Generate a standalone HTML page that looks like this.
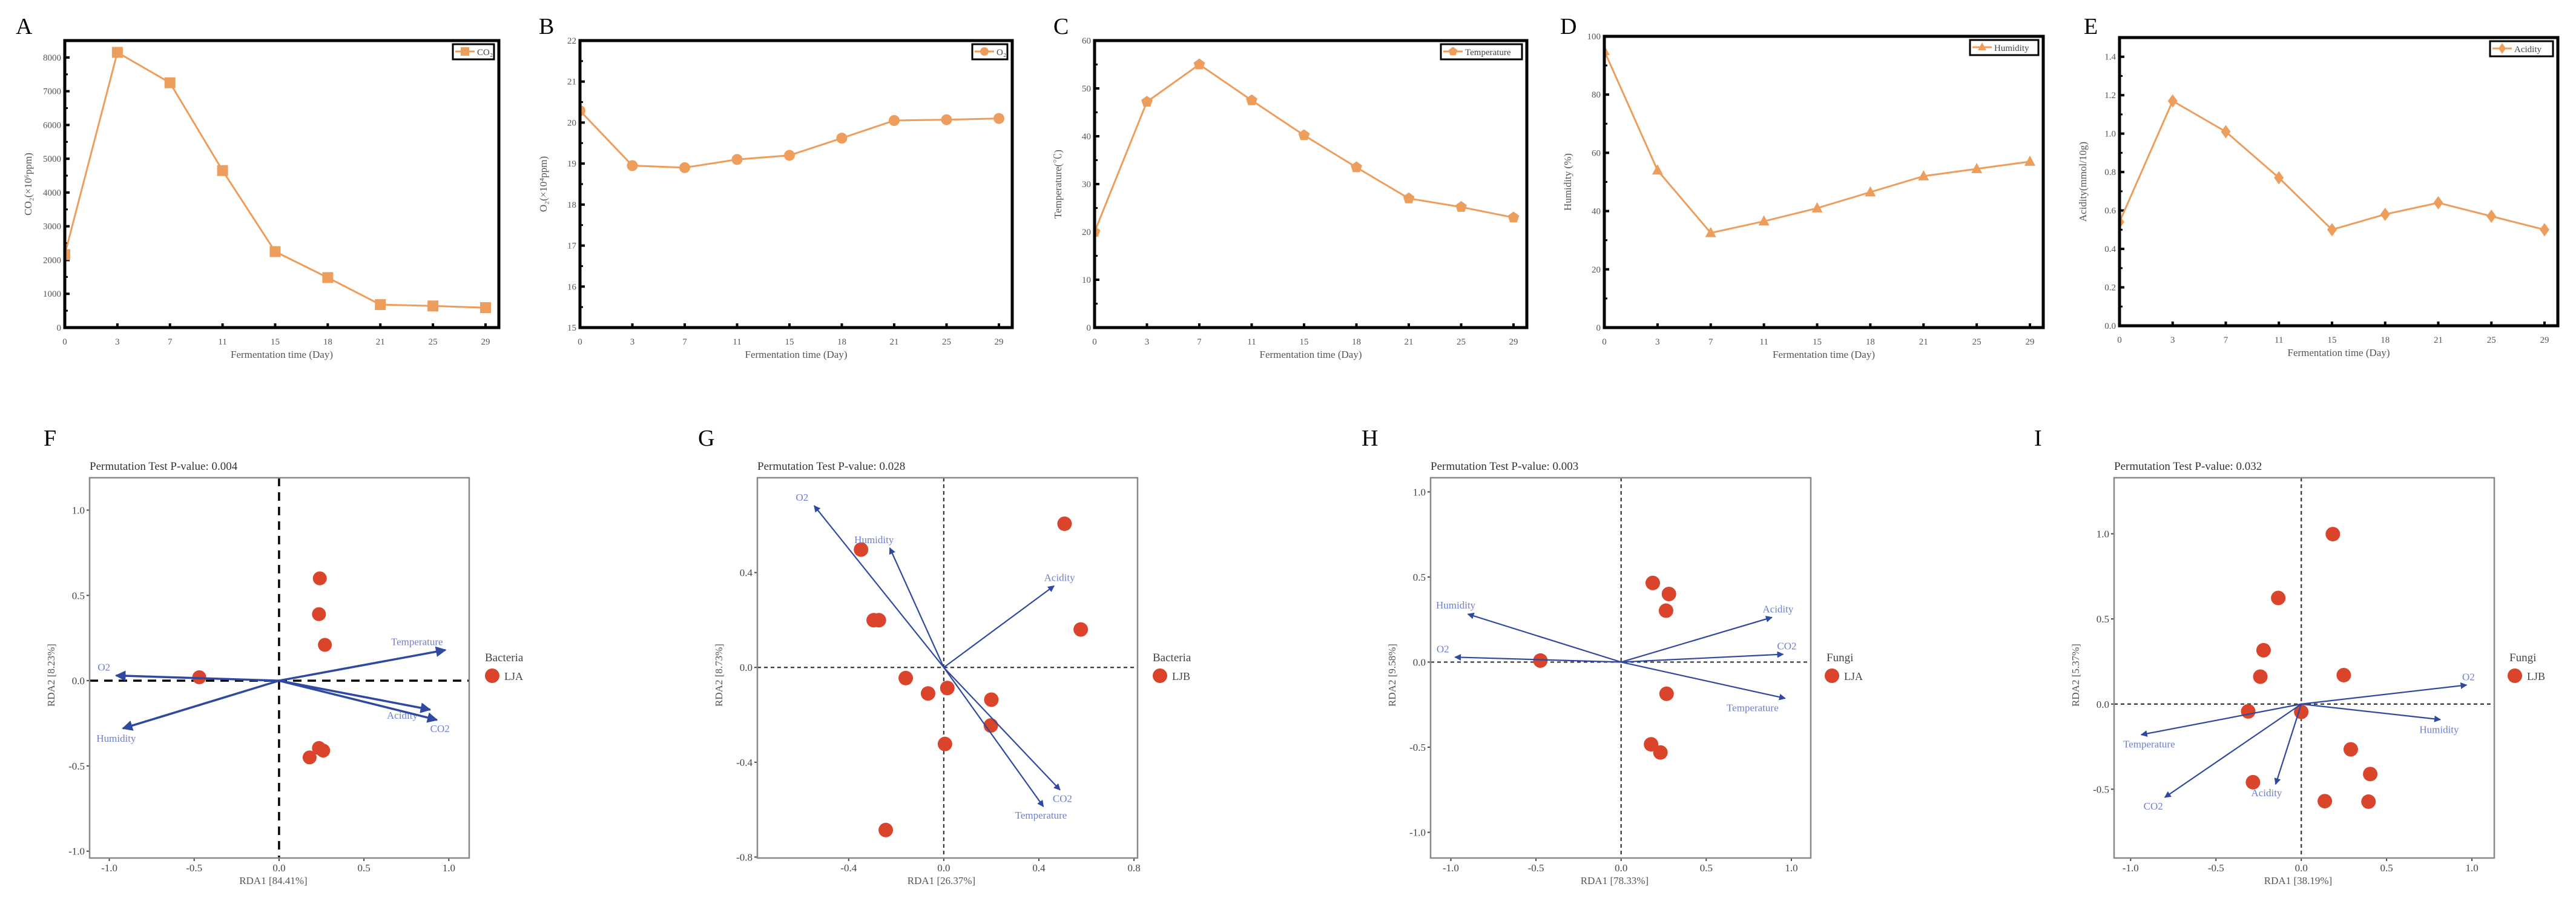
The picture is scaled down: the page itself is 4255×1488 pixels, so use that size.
<!DOCTYPE html>
<html><head><meta charset="utf-8"><style>
html,body{margin:0;padding:0;background:#fff}
svg{display:block}
text{font-family:"Liberation Serif","Noto Serif CJK SC",serif}
</style></head><body>
<svg id="fig" xmlns="http://www.w3.org/2000/svg" width="4255" height="1488" viewBox="0 0 4255 1488">
<defs>
<marker id="ah" viewBox="0 0 10 10" refX="9" refY="5" markerWidth="5" markerHeight="5" orient="auto-start-reverse"><path d="M0,0 L10,5 L0,10 z" fill="#2F48A0"/></marker>
</defs>
</svg>
<script>
// ---- line chart data ----
const days = ["0","3","7","11","15","18","21","25","29"];
const co2 = [2160,8150,7250,4650,2250,1480,680,640,590];
const o2 = [20.29,18.95,18.9,19.1,19.2,19.62,20.05,20.07,20.1];
const temp = [20,47.2,55,47.5,40.2,33.5,27,25.2,23];
const humidity = [95,54,32.5,36.5,41,46.5,52,54.5,57];
const acidity = [0.54,1.17,1.01,0.77,0.5,0.58,0.64,0.57,0.5];
const co2Ticks = [0,1000,2000,3000,4000,5000,6000,7000,8000];
const o2Ticks = [15,16,17,18,19,20,21,22];
const tempTicks = [0,10,20,30,40,50,60];
const humTicks = [0,20,40,60,80,100];
const acidTicks = ["0.0","0.2","0.4","0.6","0.8","1.0","1.2","1.4"];

// ---- RDA data ----
const fPtsX = [0.24,0.235,0.27,-0.47,0.235,0.26,0.18];
const fPtsY = [0.60,0.39,0.21,0.02,-0.395,-0.41,-0.45];
const fArrows = ["Temperature","O2","Humidity","Acidity","CO2"];
const fArrX = [0.98,-0.96,-0.92,0.89,0.93];
const fArrY = [0.18,0.03,-0.28,-0.17,-0.23];

const gPtsX = [0.508,-0.348,-0.295,-0.273,0.576,-0.16,0.015,-0.066,0.2,0.198,0.005,-0.244];
const gPtsY = [0.606,0.497,0.199,0.199,0.16,-0.045,-0.087,-0.11,-0.136,-0.245,-0.323,-0.686];
const gArrows = ["O2","Humidity","Acidity","CO2","Temperature"];
const gArrX = [-0.545,-0.227,0.464,0.489,0.419];
const gArrY = [0.682,0.504,0.344,-0.517,-0.587];

const hPtsX = [0.186,0.281,0.264,-0.474,0.267,0.176,0.231];
const hPtsY = [0.465,0.40,0.302,0.009,-0.186,-0.483,-0.531];
const hArrows = ["Humidity","O2","Acidity","CO2","Temperature"];
const hArrX = [-0.9,-0.976,0.886,0.952,0.964];
const hArrY = [0.282,0.029,0.263,0.046,-0.213];

const iPtsX = [0.185,-0.135,-0.221,-0.24,0.249,-0.311,0.0,0.29,0.404,-0.283,0.138,0.394];
const iPtsY = [0.998,0.623,0.316,0.161,0.17,-0.043,-0.046,-0.266,-0.411,-0.459,-0.57,-0.573];
const iArrows = ["O2","Humidity","Temperature","CO2","Acidity"];
const iArrX = [0.969,0.815,-0.938,-0.8,-0.15];
const iArrY = [0.112,-0.091,-0.18,-0.548,-0.471];

const NS = "http://www.w3.org/2000/svg";
const svg = document.getElementById('fig');
function mk(tag, attrs, parent, txt){
  const e = document.createElementNS(NS, tag);
  for (const k in attrs) e.setAttribute(k, attrs[k]);
  if (txt !== undefined) e.textContent = txt;
  (parent || svg).appendChild(e);
  return e;
}
const ORANGE = "#EE9E5C";

function lineChart(c){
  const g = mk('g', {});
  
  
  const W = c.R - c.L, H = c.B - c.T;
  const step = (W - 22) / (days.length - 1);
  const xs = i => c.L + i * step;
  const ys = v => c.B - (v - c.ymin) / (c.ymax - c.ymin) * H;
  const letter = mk('text', {x:c.lx, y:56, 'font-size':38}, g, c.letter);
  
  
  const cp = mk('clipPath', {id:'cp'+c.letter}, g);
  mk('rect', {x:c.L, y:c.T, width:W, height:H}, cp);
  for (let k = 0; k < c.yticks.length; k++){
    const v = parseFloat(c.yticks[k]);
    const y = ys(v);
    const tk = mk('line', {x1:c.L, x2:c.L+8, y1:y, y2:y, stroke:'#000', 'stroke-width':4}, g);
    
    
    const tl = mk('text', {x:c.L-6, y:y+5, 'font-size':15, 'text-anchor':'end', fill:'#555'}, g, String(c.yticks[k]));
    
    
    if (k < c.yticks.length - 1){
      const vm = (v + parseFloat(c.yticks[k+1])) / 2;
      mk('line', {x1:c.L, x2:c.L+5, y1:ys(vm), y2:ys(vm), stroke:'#000', 'stroke-width':3}, g);
    }
  }
  for (let i = 0; i < days.length; i++){
    const x = xs(i);
    const tk = mk('line', {x1:x, x2:x, y1:c.B, y2:c.B-7, stroke:'#000', 'stroke-width':4}, g);
    
    
    const tl = mk('text', {x:x, y:c.B+28, 'font-size':15, 'text-anchor':'middle', fill:'#555'}, g, days[i]);
    
    
  }
  const pg = mk('g', {'clip-path':'url(#cp'+c.letter+')'}, g);
  let d = '';
  for (let i = 0; i < c.vals.length; i++) d += (i ? 'L' : 'M') + xs(i) + ',' + ys(c.vals[i]);
  const ln = mk('path', {d:d, fill:'none', stroke:ORANGE, 'stroke-width':3}, pg);
  
  
  for (let i = 0; i < c.vals.length; i++){
    const m = marker(c.mk, xs(i), ys(c.vals[i]), pg, 9);
    
    
  }
  const fr = mk('rect', {x:c.L, y:c.T, width:W, height:H, fill:'none', stroke:'#000', 'stroke-width':5}, g);
  
  
  const lg = mk('g', {}, g);
  
  
  mk('rect', {x:c.legX, y:c.T+6, width:c.R-8-c.legX, height:25, fill:'#fff', stroke:'#000', 'stroke-width':3}, lg);
  mk('line', {x1:c.legX+4, x2:c.legX+36, y1:c.T+18, y2:c.T+18, stroke:ORANGE, 'stroke-width':3}, lg);
  marker(c.mk, c.legX+20, c.T+18, lg, 7);
  mk('text', {x:c.legX+40, y:c.T+24, 'font-size':15, fill:'#444'}, lg, c.legend);
  const xt = mk('text', {x:c.L + W/2, y:c.B+50, 'font-size':17, 'text-anchor':'middle', fill:'#555'}, g, 'Fermentation time (Day)');
  
  
  const yx = c.L - 55, yy = c.T + H/2;
  const yt = mk('text', {x:yx, y:yy, 'font-size':17, 'text-anchor':'middle', fill:'#555', transform:'rotate(-90 '+yx+' '+yy+')'}, g, c.ytitle);
  
  
}
function marker(type, x, y, parent, s){
  if (type === 'square') return mk('rect', {x:x-s, y:y-s, width:2*s, height:2*s, fill:ORANGE}, parent);
  if (type === 'circle') return mk('circle', {cx:x, cy:y, r:s, fill:ORANGE}, parent);
  if (type === 'tri') return mk('path', {d:'M'+x+','+(y-s-1)+' L'+(x+s)+','+(y+s-2)+' L'+(x-s)+','+(y+s-2)+'z', fill:ORANGE}, parent);
  if (type === 'penta'){
    let d=''; for (let k=0;k<5;k++){const a=-Math.PI/2+k*2*Math.PI/5; d+=(k?'L':'M')+(x+s*1.1*Math.cos(a))+','+(y+s*1.1*Math.sin(a));}
    return mk('path', {d:d+'z', fill:ORANGE}, parent);
  }
  return mk('path', {d:'M'+x+','+(y-s-2)+' L'+(x+s-1)+','+y+' L'+x+','+(y+s+2)+' L'+(x-s+1)+','+y+'z', fill:ORANGE}, parent);
}

lineChart({name:'chart-co2', letter:'A', lx:26, L:107, R:824, T:67, B:541, ymin:0, ymax:8500, yticks:co2Ticks, vals:co2, mk:'square', legend:'CO\u2082', legX:748, ytitle:'CO\u2082(\u00D710\u2076ppm)'});
lineChart({name:'chart-o2', letter:'B', lx:890, L:958, R:1672, T:67, B:541, ymin:15, ymax:22, yticks:o2Ticks, vals:o2, mk:'circle', legend:'O\u2082', legX:1606, ytitle:'O\u2082(\u00D710\u2074ppm)'});
lineChart({name:'chart-temperature', letter:'C', lx:1740, L:1808, R:2522, T:67, B:541, ymin:0, ymax:60, yticks:tempTicks, vals:temp, mk:'penta', legend:'Temperature', legX:2380, ytitle:'Temperature(\u2103)'});
lineChart({name:'chart-humidity', letter:'D', lx:2577, L:2650, R:3375, T:60, B:541, ymin:0, ymax:100, yticks:humTicks, vals:humidity, mk:'tri', legend:'Humidity', legX:3254, ytitle:'Humidity (%)'});
lineChart({name:'chart-acidity', letter:'E', lx:3442, L:3501, R:4225, T:62, B:538, ymin:0, ymax:1.5, yticks:acidTicks, vals:acidity, mk:'diamond', legend:'Acidity', legX:4113, ytitle:'Acidity(mmol/10g)'});

function rda(c){
  const g = mk('g', {});
  
  
  const T = 789, B = 1417;
  const xs = v => c.L + (v - c.xmin) / (c.xmax - c.xmin) * (c.R - c.L);
  const ys = v => B - (v - c.ymin) / (c.ymax - c.ymin) * (B - T);
  const lt = mk('text', {x:c.lx, y:736, 'font-size':38}, g, c.letter);
  
  
  const ti = mk('text', {x:c.L, y:776, 'font-size':19, fill:'#333'}, g, 'Permutation Test P-value: ' + c.p);
  
  
  for (const v of c.xticks){
    const x = xs(v);
    mk('line', {x1:x, x2:x, y1:B, y2:B+5, stroke:'#444', 'stroke-width':2}, g);
    const tl = mk('text', {x:x, y:B+22, 'font-size':17, 'text-anchor':'middle', fill:'#444'}, g, v.toFixed(1));
    
    
  }
  for (const v of c.yticks){
    const y = ys(v);
    mk('line', {x1:c.L-5, x2:c.L, y1:y, y2:y, stroke:'#444', 'stroke-width':2}, g);
    const tl = mk('text', {x:c.L-8, y:y+6, 'font-size':17, 'text-anchor':'end', fill:'#444'}, g, v.toFixed(1));
    
    
  }
  const dw = c.thick ? 3.5 : 2.2, da = c.thick ? '14,10' : '6,5', dc = c.thick ? '#000' : '#333';
  const hz = mk('line', {x1:c.L, x2:c.R, y1:ys(0), y2:ys(0), stroke:dc, 'stroke-width':dw, 'stroke-dasharray':da}, g);
  
  
  const vt = mk('line', {x1:xs(0), x2:xs(0), y1:T, y2:B, stroke:dc, 'stroke-width':dw, 'stroke-dasharray':da}, g);
  
  
  for (let i = 0; i < c.px.length; i++){
    const p = mk('circle', {cx:xs(c.px[i]), cy:ys(c.py[i]), r:c.r, fill:'#D9442B'}, g);
    
    
  }
  for (let i = 0; i < c.an.length; i++){
    const a = mk('line', {x1:xs(0), y1:ys(0), x2:xs(c.ax[i]), y2:ys(c.ay[i]), stroke:'#2F48A0', 'stroke-width':c.thick?3.5:2.2, 'marker-end':'url(#ah)'}, g);
    
    
    const off = c.off[i];
    const t = mk('text', {x:xs(c.ax[i])+off[0], y:ys(c.ay[i])+off[1]+6, 'font-size':17, 'text-anchor':'middle', fill:'#6E7ED0'}, g, c.an[i]);
    
    
  }
  const fr = mk('rect', {x:c.L, y:T, width:c.R-c.L, height:B-T, fill:'none', stroke:'#888', 'stroke-width':2.5}, g);
  
  
  const xt = mk('text', {x:(c.L+c.R)/2-10, y:1460, 'font-size':17, 'text-anchor':'middle', fill:'#555'}, g, c.xl);
  
  
  const yx = c.L - 58, yy = 1115;
  const yt = mk('text', {x:yx, y:yy, 'font-size':17, 'text-anchor':'middle', fill:'#555', transform:'rotate(-90 '+yx+' '+yy+')'}, g, c.yl);
  
  
  const lg = mk('g', {}, g);
  
  
  mk('text', {x:c.legX, y:1092, 'font-size':19, fill:'#444'}, lg, c.legT);
  mk('circle', {cx:c.legX+c.dotDx, cy:1116, r:12, fill:'#D9442B'}, lg);
  mk('text', {x:c.legX+c.dotDx+20, y:1123, 'font-size':18, fill:'#444'}, lg, c.legE);
}

rda({name:'rda-bacteria-lja', letter:'F', lx:72, L:148, R:775, xmin:-1.116, xmax:1.12, ymin:-1.04, ymax:1.19,
  xticks:[-1,-0.5,0,0.5,1], yticks:[-1,-0.5,0,0.5,1], p:'0.004', thick:true, r:11.5,
  px:fPtsX, py:fPtsY, an:fArrows, ax:fArrX, ay:fArrY,
  off:[[-47,-14],[-20,-14],[-11,16],[-46,9],[5,14]],
  xl:'RDA1 [84.41%]', yl:'RDA2 [8.23%]', legX:801, dotDx:12, legT:'Bacteria', legE:'LJA'});
rda({name:'rda-bacteria-ljb', letter:'G', lx:1153, L:1251, R:1879, xmin:-0.784, xmax:0.815, ymin:-0.804, ymax:0.80,
  xticks:[-0.4,0,0.4,0.8], yticks:[-0.8,-0.4,0,0.4], p:'0.028', thick:false, r:12,
  px:gPtsX, py:gPtsY, an:gArrows, ax:gArrX, ay:gArrY,
  off:[[-20,-14],[-26,-14],[9,-14],[4,14],[-4,14]],
  xl:'RDA1 [26.37%]', yl:'RDA2 [8.73%]', legX:1904, dotDx:12, legT:'Bacteria', legE:'LJB'});
rda({name:'rda-fungi-lja', letter:'H', lx:2249, L:2363, R:2991, xmin:-1.119, xmax:1.114, ymin:-1.151, ymax:1.083,
  xticks:[-1,-0.5,0,0.5,1], yticks:[-1,-0.5,0,0.5,1], p:'0.003', thick:false, r:12,
  px:hPtsX, py:hPtsY, an:hArrows, ax:hArrX, ay:hArrY,
  off:[[-20,-15],[-20,-14],[10,-14],[6,-14],[-54,15]],
  xl:'RDA1 [78.33%]', yl:'RDA2 [9.58%]', legX:3017, dotDx:9, legT:'Fungi', legE:'LJA'});
rda({name:'rda-fungi-ljb', letter:'I', lx:3360, L:3492, R:4120, xmin:-1.097, xmax:1.131, ymin:-0.904, ymax:1.329,
  xticks:[-1,-0.5,0,0.5,1], yticks:[-0.5,0,0.5,1], p:'0.032', thick:false, r:12,
  px:iPtsX, py:iPtsY, an:iArrows, ax:iArrX, ay:iArrY,
  off:[[3,-14],[-2,16],[13,15],[-19,14],[-15,14]],
  xl:'RDA1 [38.19%]', yl:'RDA2 [5.37%]', legX:4145, dotDx:9, legT:'Fungi', legE:'LJB'});
</script>
</body></html>
